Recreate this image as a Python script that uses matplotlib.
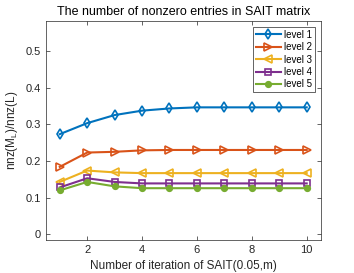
import numpy as np
import matplotlib.pyplot as plt

plt.rcParams['font.family'] = ['Liberation Sans', 'DejaVu Sans']

# data
iters = [1, 2, 3, 4, 5, 6, 7, 8, 9, 10]
level1 = [0.273, 0.303, 0.325, 0.337, 0.343, 0.346, 0.346, 0.346, 0.346, 0.346]
level2 = [0.184, 0.223, 0.225, 0.229, 0.230, 0.230, 0.230, 0.230, 0.230, 0.230]
level3 = [0.143, 0.174, 0.169, 0.167, 0.167, 0.167, 0.167, 0.167, 0.167, 0.167]
level4 = [0.128, 0.153, 0.143, 0.139, 0.139, 0.139, 0.139, 0.139, 0.139, 0.139]
level5 = [0.120, 0.143, 0.131, 0.126, 0.126, 0.126, 0.126, 0.126, 0.126, 0.126]
labels = ["level 1", "level 2", "level 3", "level 4", "level 5"]

series = [level1, level2, level3, level4, level5]
colors = ["#0072BD", "#D95319", "#EDB120", "#7E2F8E", "#77AC30"]
markers = ["d", ">", "<", "s", "o"]
msizes = [5, 6, 6, 4.5, 4]

fig = plt.figure(figsize=(3.54, 2.73), dpi=100)
ax = fig.add_axes([46/354, 1-240/273, (320.7-46)/354, (240-21)/273])

for vals, lab, col, mk, ms in zip(series, labels, colors, markers, msizes):
    face = col if mk == "o" else "none"
    ax.plot(iters, vals, color=col, marker=mk, markersize=ms, linewidth=1.5,
            markerfacecolor=face, markeredgewidth=1.2, label=lab)

ax.set_xlim(0.5, 10.51)
ax.set_ylim(-0.015, 0.581)
ax.set_xticks([2, 4, 6, 8, 10])
ax.set_yticks([0, 0.1, 0.2, 0.3, 0.4, 0.5])
ax.set_yticklabels(["0", "0.1", "0.2", "0.3", "0.4", "0.5"])
ax.tick_params(direction="in", top=True, right=True, labelsize=8,
               colors="#262626", length=3, width=0.5)
for sp in ax.spines.values():
    sp.set_color("#262626")
    sp.set_linewidth(0.5)

ax.set_xlabel("Number of iteration of SAIT(0.05,m)", fontsize=8.5, color="#262626")
ax.set_ylabel("nnz(M$_\\mathregular{L}$)/nnz(L)", fontsize=8.5, color="#262626")
ax.set_title("The number of nonzero entries in SAIT matrix", fontsize=9, pad=4)

leg = ax.legend(loc="upper right", fontsize=7, fancybox=False, framealpha=1,
                edgecolor="#262626", borderpad=0.3, labelspacing=0.25,
                handlelength=2.6, handletextpad=0.3, borderaxespad=0.6)
leg.get_frame().set_linewidth(0.5)

fig.savefig("out.png", dpi=100)
